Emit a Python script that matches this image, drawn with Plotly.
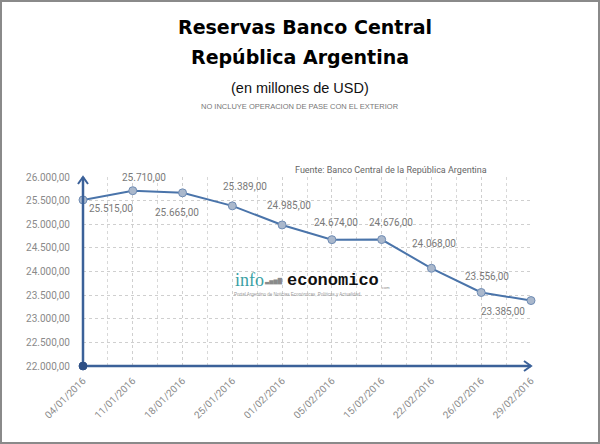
import plotly.graph_objects as go

dates = ["04/01/2016", "11/01/2016", "18/01/2016", "25/01/2016", "01/02/2016",
         "05/02/2016", "15/02/2016", "22/02/2016", "26/02/2016", "29/02/2016"]
reserves = [25515, 25710, 25665, 25389, 24985, 24674, 24676, 24068, 23556, 23385]
y_ticks = [22000, 22500, 23000, 23500, 24000, 24500, 25000, 25500, 26000]

# label offsets in pixels (style, not data)
label_dx = [28, 11, -6, 13, 7, 4, 9, 3, 6, -28]
label_dy = [9, -13, 20, -19, -19, -17, -17, -25, -16, 11]

W, H = 600, 444
L, R, T, B = 83, 531, 177, 366  # plot area in pixels


def px(x):
    return (x - L) / (R - L)


def py(y):
    return (B - y) / (B - T)


def fmt(v):
    return f"{v:,.2f}".replace(",", "X").replace(".", ",").replace("X", ".")


idx = list(range(len(dates)))
axis_col = "#3b6199"
lblfont = "Roboto, Liberation Sans, sans-serif"

fig = go.Figure()
fig.add_trace(go.Scatter(
    x=idx, y=reserves, mode="lines+markers",
    line=dict(color="#4a74aa", width=2),
    marker=dict(size=8, color="#aab8cc", line=dict(color="#6f8cb4", width=1)),
    cliponaxis=False, hoverinfo="skip", showlegend=False,
))

fig.update_layout(
    width=W, height=H,
    margin=dict(l=L, r=W - R, t=T, b=H - B),
    paper_bgcolor="white", plot_bgcolor="white",
    separators=",.",
    font=dict(family=lblfont, color="#777"),
)
fig.update_xaxes(
    range=[0, len(dates) - 1], tickmode="array", tickvals=idx, ticktext=dates,
    tickangle=-45, tickfont=dict(family=lblfont, size=10, color="#8a8a8a"),
    showgrid=True, gridcolor="#cfcfcf", griddash="dot", gridwidth=1,
    minor=dict(dtick=0.5, tick0=0, showgrid=True, gridcolor="#d8d8d8", griddash="dot", gridwidth=1),
    zeroline=False, showline=False, ticks="", ticklabelstandoff=6,
)
fig.update_yaxes(
    range=[22000, 26000], tickmode="array", tickvals=y_ticks,
    tickformat=",.2f", tickfont=dict(family=lblfont, size=10, color="#8a8a8a"),
    showgrid=True, gridcolor="#cfcfcf", griddash="dot", gridwidth=1,
    zeroline=False, showline=False, ticks="", ticklabelstandoff=12,
)

shapes = []
shapes.append(dict(type="line", xref="paper", yref="paper", x0=0, x1=0, y0=0, y1=1,
                   line=dict(color=axis_col, width=2.5)))
shapes.append(dict(type="line", xref="paper", yref="paper", x0=0, x1=1, y0=0, y1=0,
                   line=dict(color=axis_col, width=2.5)))
shapes.append(dict(type="path", xref="paper", yref="paper", xsizemode="pixel", ysizemode="pixel",
                   xanchor=0, yanchor=1, path="M -5,-7 L 0,0 L 5,-7",
                   line=dict(color=axis_col, width=2)))
shapes.append(dict(type="path", xref="paper", yref="paper", xsizemode="pixel", ysizemode="pixel",
                   xanchor=1, yanchor=0, path="M -7,5 L 0,0 L -7,-5",
                   line=dict(color=axis_col, width=2)))
shapes.append(dict(type="circle", xref="paper", yref="paper", xsizemode="pixel", ysizemode="pixel",
                   xanchor=0, yanchor=0, x0=-4, x1=4, y0=-4, y1=4,
                   fillcolor="#2d4f85", line=dict(color="#2d4f85", width=1)))
shapes.append(dict(type="rect", xref="paper", yref="paper",
                   x0=px(1), x1=px(W - 1), y0=py(H - 1), y1=py(1),
                   line=dict(color="#8a8a8a", width=2), layer="above"))
fig.update_layout(shapes=shapes)

ann = []
for i, v in enumerate(reserves):
    ann.append(dict(text=fmt(v), x=idx[i], y=v, xref="x", yref="y",
                    xshift=label_dx[i], yshift=-label_dy[i],
                    font=dict(family=lblfont, size=10, color="#7a7a7a")))

title_font = dict(family="DejaVu Sans, sans-serif", size=19, color="black")
ann.append(dict(text="<b>Reservas Banco Central</b>", x=px(305), y=py(27), font=title_font))
ann.append(dict(text="<b>República Argentina</b>", x=px(300), y=py(57), font=title_font))
ann.append(dict(text="(en millones de USD)", x=px(300), y=py(88),
                font=dict(family="Liberation Sans, Arial, sans-serif", size=14.5, color="#111")))
ann.append(dict(text="NO INCLUYE OPERACION DE PASE CON EL EXTERIOR", x=px(300), y=py(107),
                font=dict(family="Liberation Sans, Arial, sans-serif", size=7.5, color="#777")))
ann.append(dict(text="Fuente: Banco Central de la República Argentina", x=px(391), y=py(170),
                font=dict(family="Roboto, Liberation Sans, sans-serif", size=9, color="#666")))
# logo
ann.append(dict(text="info", x=px(233), y=py(280), xanchor="left",
                font=dict(family="Liberation Serif, serif", size=18, color="#3a9fa4")))
ann.append(dict(text="▃▅▆█", x=px(262), y=py(281), xanchor="left",
                font=dict(family="DejaVu Sans", size=5.5, color="#8a8a8a")))
ann.append(dict(text="<b>economico</b>", x=px(285), y=py(280), xanchor="left",
                font=dict(family="Liberation Mono, monospace", size=17, color="#111")))
ann.append(dict(text=".com", x=px(379), y=py(287), xanchor="left",
                font=dict(family="Liberation Sans", size=4, color="#888")))
ann.append(dict(text="Portal Argentino de Noticias Económicas, Políticas y Actualidad",
                x=px(232), y=py(294), xanchor="left",
                font=dict(family="Liberation Sans", size=4.5, color="#999")))
for a in ann:
    a.setdefault("xref", "paper")
    a.setdefault("yref", "paper")
    a["showarrow"] = False
    a.setdefault("xanchor", "center")
    a.setdefault("yanchor", "middle")
fig.update_layout(annotations=ann)

fig.write_html("out.html", config={"displayModeBar": False},
               post_script="document.body.style.margin='0';")
